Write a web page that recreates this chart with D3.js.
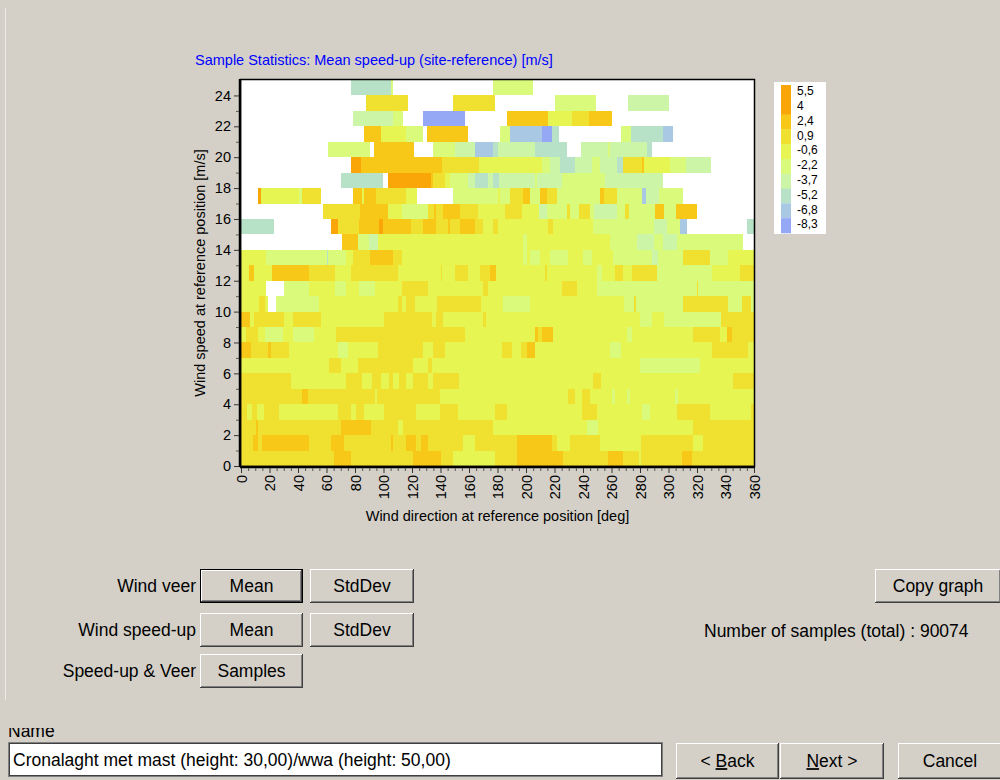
<!DOCTYPE html>
<html><head><meta charset="utf-8">
<script src="https://cdnjs.cloudflare.com/ajax/libs/d3/7.8.5/d3.min.js"></script>
<style>
html,body{margin:0;padding:0;background:#D4D0C8;}
svg{display:block;}
</style></head>
<body>
<svg id="c" width="1000" height="780"></svg>
<script>
// ---- data (direction segments per wind-speed bin: [fromDeg, toDeg, meanSpeedUp]) ----
const speedBins = d3.range(0, 25);
const xTicks = d3.range(0, 361, 20);
const yTicks = d3.range(0, 25, 2);
const legendLabels = ["5,5","4","2,4","0,9","-0,6","-2,2","-3,7","-5,2","-6,8","-8,3"];
const legendValues = [5.5,4,2.4,0.9,-0.6,-2.2,-3.7,-5.2,-6.8,-8.3];
const thresholds = [-6.8,-5.2,-3.7,-2.2,-0.6,0.9,2.4,4];
const palette = ["#94A8F5","#A8C8E4","#B8E2C8","#CCF5A8","#DAFA7C","#E6F552","#F0E030","#F8C818","#FBA608"];

const row0 = [[0,65.5,1.6],[65.5,77,3.2],[77,120.5,1.6],[120.5,140,3.2],[140,149,1.6],[149,178.5,0.1],[178.5,194,1.6],[194,226,3.2],[226,257.5,1.6],[257.5,268,3.2],[268,279,1.6],[279,280.5,0.1],[280.5,309.5,1.6],[309.5,316.5,3.2],[316.5,360,1.6]];
const row1 = [[0,8.5,1.6],[8.5,12,3.2],[12,14.5,1.6],[14.5,48,3.2],[48,63,1.6],[63,72,3.2],[72,105,1.6],[105,107,3.2],[107,116,1.6],[116,122.5,3.2],[122.5,126,1.6],[126,131.5,3.2],[131.5,155.5,1.6],[155.5,164,0.1],[164,194,1.6],[194,218.5,3.2],[218.5,222,1.6],[222,231,0.1],[231,252,1.6],[252,281,0.1],[281,317,1.6],[317,324,0.1],[324,360,1.6]];
const row2 = [[0,10.5,1.6],[10.5,12,3.2],[12,70,1.6],[70,91,3.2],[91,110,1.6],[110,114,0.1],[114,177,1.6],[177,243,0.1],[243,250.5,-1.4],[250.5,317,0.1],[317,360,1.6]];
const row3 = [[0,4,1.6],[4,8,0.1],[8,11,1.6],[11,16,0.1],[16,26.5,1.6],[26.5,68,0.1],[68,77,1.6],[77,80.5,0.1],[80.5,86,1.6],[86,100,0.1],[100,122.5,1.6],[122.5,139.5,0.1],[139.5,152,1.6],[152,178.5,0.1],[178.5,187,1.6],[187,239.5,0.1],[239.5,250,1.6],[250,281.5,0.1],[281.5,287,-1.4],[287,306,0.1],[306,329,1.6],[329,358,0.1],[358,360,1.6]];
const row4 = [[0,42.5,1.6],[42.5,47,3.2],[47,94,1.6],[94,95.5,0.1],[95.5,139.5,1.6],[139.5,229.5,0.1],[229.5,234.5,1.6],[234.5,239.5,0.1],[239.5,245,1.6],[245,260.5,0.1],[260.5,262.5,-1.4],[262.5,271,0.1],[271,273,-1.4],[273,304.5,0.1],[304.5,307,-1.4],[307,360,0.1]];
const row5 = [[0,35,1.6],[35,73.5,0.1],[73.5,85,1.6],[85,92,0.1],[92,98,1.6],[98,104,0.1],[104,107,1.6],[107,111,0.1],[111,116,1.6],[116,121,0.1],[121,131,1.6],[131,134.5,0.1],[134.5,153,1.6],[153,247,0.1],[247,252.5,1.6],[252.5,345,0.1],[345,360,1.6]];
const row6 = [[0,62,0.1],[62,70,1.6],[70,82,0.1],[82,120.5,1.6],[120.5,131.5,0.1],[131.5,134,1.6],[134,280,0.1],[280,322,-1.4],[322,360,0.1]];
const row7 = [[0,7,3.2],[7,19,1.6],[19,21,3.2],[21,33.5,1.6],[33.5,68,0.1],[68,75,-1.4],[75,96,0.1],[96,128,1.6],[128,135,0.1],[135,143.5,1.6],[143.5,183.5,0.1],[183.5,190.5,1.6],[190.5,196.5,0.1],[196.5,201,1.6],[201,206,3.2],[206,259,0.1],[259,266.5,-1.4],[266.5,330.5,0.1],[330.5,355.5,1.6],[355.5,360,0.1]];
const row8 = [[0,3.5,0.1],[3.5,12,1.6],[12,17,0.1],[17,29.5,-1.4],[29.5,36.5,0.1],[36.5,51,-1.4],[51,66.5,0.1],[66.5,157.5,1.6],[157.5,206,0.1],[206,208.5,3.2],[208.5,211,1.6],[211,219,3.2],[219,271,0.1],[271,274.5,-1.4],[274.5,317,0.1],[317,336,1.6],[336,341,0.1],[341,344.5,3.2],[344.5,360,1.6]];
const row9 = [[0,6.5,3.2],[6.5,9,0.1],[9,30,1.6],[30,36.5,0.1],[36.5,56,1.6],[56,100,0.1],[100,134,1.6],[134,136.5,0.1],[136.5,141.5,1.6],[141.5,170,0.1],[170,172,1.6],[172,280,0.1],[280,288.5,-1.4],[288.5,297,0.1],[297,337,-1.4],[337,360,1.6]];
const row10 = [[0,12.5,0.1],[12.5,17,1.6],[17,19,0.1],[24.5,54.5,-1.4],[54.5,110.5,0.1],[110.5,113,1.6],[113,115.5,0.1],[115.5,122,1.6],[122,137.5,0.1],[137.5,168.5,1.6],[168.5,184,0.1],[184,202.5,-1.4],[202.5,269,0.1],[269,276,-1.4],[276,277,1.6],[277,310.5,-1.4],[310.5,341.5,1.6],[341.5,351.5,-1.4],[351.5,358,1.6],[358,360,-1.4]];
const row11 = [[0,17.5,0.1],[30.5,47.5,-1.4],[47.5,66,0.1],[66,73.5,-1.4],[73.5,82.5,0.1],[82.5,94,-1.4],[94,113,0.1],[113,131.5,1.6],[131.5,170,0.1],[170,173.5,1.6],[173.5,225.5,0.1],[225.5,236,1.6],[236,249.5,0.1],[249.5,320,-1.4],[320,321,1.6],[321,360,-1.4]];
const row12 = [[0,5.5,0.1],[5.5,9,3.2],[9,22,0.1],[22,47.5,3.2],[47.5,66,1.6],[66,77,0.1],[77,110.5,1.6],[110.5,140,0.1],[140,141,1.6],[141,150,0.1],[150,159,1.6],[159,168,0.1],[168,175,1.6],[175,179,3.2],[179,213,0.1],[213,214.5,1.6],[214.5,250,0.1],[250,253,-1.4],[253,262.5,0.1],[262.5,268,1.6],[268,274.5,0.1],[274.5,292,1.6],[292,330.5,-1.4],[330.5,350,0.1],[350,360,1.6]];
const row13 = [[0,17.5,0.1],[17.5,60,-1.4],[60,61,-4.5],[61,73.5,-1.4],[73.5,78.5,0.1],[78.5,90.5,1.6],[90.5,106.5,3.2],[106.5,113,1.6],[113,198,0.1],[198,201,-1.4],[201,203,0.1],[203,210,-1.4],[210,217,0.1],[217,229.5,-1.4],[229.5,240,0.1],[240,246.5,-1.4],[246.5,261,0.1],[261,288.5,-1.4],[288.5,292.5,-3],[292.5,310,-1.4],[310,329,1.6],[329,342,-1.4],[342,360,0.1]];
const row14 = [[71,82,3.2],[82,89.5,-1.4],[89.5,96,-3],[96,198,0.1],[198,201,-1.4],[201,259,0.1],[259,278,-1.4],[278,289.5,-3],[289.5,296,-1.4],[296,306,-3],[306,352.5,-1.4]];
const row15 = [[0,23,-4.5],[63,68,4.7],[68,82.5,1.6],[82.5,97,3.2],[97,99.5,4.7],[99.5,119,3.2],[119,128,1.6],[128,136.5,3.2],[136.5,145,1.6],[145,147,3.2],[147,153.5,1.6],[153.5,164,3.2],[164,169.5,1.6],[169.5,177,0.1],[177,180,1.6],[180,215.5,0.1],[215.5,219,1.6],[219,247,0.1],[247,289.5,-1.4],[289.5,299,-3],[299,308,-1.4],[308,313,-6],[355,360,-4.5]];
const row16 = [[57.5,83.5,1.6],[83.5,103,3.2],[103,113,0.1],[113,131.5,-1.4],[131.5,135.5,1.6],[135.5,137,3.2],[137,141.5,1.6],[141.5,153.5,3.2],[153.5,166,1.6],[166,185.5,0.1],[185.5,197,1.6],[197,209,0.1],[209,215,-3],[215,228.5,-1.4],[228.5,231,1.6],[231,237,-1.4],[237,245,1.6],[245,248,-1.4],[248,264,-3],[264,269.5,-1.4],[269.5,272,1.6],[272,290.5,-1.4],[290.5,296.5,3.2],[296.5,305.5,-1.4],[305.5,320,3.2]];
const row17 = [[12,14,4.7],[14,40.5,0.1],[40.5,42.5,-1.4],[42.5,56,1.6],[78.5,85,3.2],[85,86,0.1],[86,94.5,3.2],[94.5,115.5,1.6],[115.5,123.5,0.1],[148.5,180,-1.4],[180,181.5,0.1],[181.5,189,-1.4],[189,198,1.6],[198,202.5,3.2],[202.5,209.5,-1.4],[209.5,215,3.2],[215,221.5,1.6],[221.5,252,-1.4],[252,255,3.2],[255,264,1.6],[264,281.5,-1.4],[281.5,284.5,-6],[284.5,293,-3],[293,310,-1.4]];
const row18 = [[70,99.5,-4.5],[103,133,4.7],[133,135,3.2],[135,143.5,1.6],[143.5,147,0.1],[147,159.5,-1.4],[159.5,164.5,-3],[164.5,173.5,-4.5],[173.5,177,-3],[177,181,-4.5],[181,206.5,-3],[206.5,208,-1.4],[208,225.5,-3],[225.5,255.5,-1.4],[255.5,296,-3]];
const row19 = [[77,84.5,4.7],[84.5,141,3.2],[141,167,1.6],[167,211.5,0.1],[211.5,217,-1.4],[217,224,-3],[224,234.5,-4.5],[234.5,246.5,-3],[246.5,252,-1.4],[252,264,-3],[264,268,-4.5],[268,281.5,1.6],[281.5,283,3.2],[283,301,0.1],[301,312.5,-1.4],[312.5,330,-3]];
const row20 = [[61,90.5,-1.4],[93,121.5,3.2],[135,150.5,-1.4],[150.5,164,-3],[164,177,-6],[177,180,-4.5],[180,206.5,-3],[206.5,229,-4.5],[238.5,257.5,-3],[257.5,259,-1.4],[259,285,-3],[285,288.5,-4.5]];
const row21 = [[86,98,3.2],[98,115.5,0.1],[115.5,127.5,-1.4],[130.5,159,3.2],[181.5,189,-1.4],[189,211,-6],[211,218.5,-7.6],[218.5,223,-4.5],[267,274,-1.4],[274,296,-4.5],[296,303,-6]];
const row22 = [[78.5,106.5,-3],[106.5,114,-1.4],[128,157,-7.6],[187,215.5,3.2],[215.5,232,0.1],[232,244.5,1.6],[244.5,260.5,3.2]];
const row23 = [[88,117,1.6],[149,178.5,1.6],[220,249,-1.4],[271.5,300.5,-3]];
const row24 = [[77,105,-4.5],[105,106.5,-1.4],[176.5,205,-1.4]];
const rows = [row0,row1,row2,row3,row4,row5,row6,row7,row8,row9,row10,row11,row12,row13,row14,row15,row16,row17,row18,row19,row20,row21,row22,row23,row24];

// ---- drawing ----
const svg = d3.select("#c");
const FONT = "'Liberation Sans', Arial, sans-serif";
const x = d3.scaleLinear().domain([0,360]).range([241,754]);
const y = d3.scaleLinear().domain([0,25]).range([466,80]);
const color = d3.scaleThreshold().domain(thresholds).range(palette);

svg.append("rect").attr("x",0).attr("y",0).attr("width",1000).attr("height",780).attr("fill","#D4D0C8");
svg.append("line").attr("x1",5.5).attr("x2",5.5).attr("y1",8).attr("y2",700).attr("stroke","#ECEAE4").attr("stroke-width",1);

// title
svg.append("text").attr("x",195).attr("y",65).attr("fill","#0000FF")
  .style("font-family",FONT).style("font-size","14.5px")
  .text("Sample Statistics: Mean speed-up (site-reference) [m/s]");

// plot background
svg.append("rect").attr("x",x(0)).attr("y",y(25)).attr("width",x(360)-x(0)).attr("height",y(0)-y(25)).attr("fill","#FFFFFF");

// cells
const cells = svg.append("g").attr("shape-rendering","crispEdges");
rows.forEach((segs,k)=>{
  cells.selectAll(null).data(segs).enter().append("rect")
    .attr("x",d=>x(d[0]))
    .attr("width",d=>Math.max(1,x(d[1])-x(d[0])))
    .attr("y",y(speedBins[k]+1))
    .attr("height",y(speedBins[k])-y(speedBins[k]+1))
    .attr("fill",d=>color(d[2]));
});

// frame
svg.append("rect").attr("x",x(0)-0.5).attr("y",y(25)-0.5).attr("width",x(360)-x(0)+1).attr("height",y(0)-y(25)+1)
  .attr("fill","none").attr("stroke","#000").attr("stroke-width",1.5);
svg.append("line").attr("x1",x(0)-1).attr("x2",x(0)-1).attr("y1",y(25)-1).attr("y2",y(0)+1).attr("stroke","#000").attr("stroke-width",2.5);
svg.append("line").attr("x1",x(0)-1).attr("x2",x(360)+1).attr("y1",y(0)+1).attr("y2",y(0)+1).attr("stroke","#000").attr("stroke-width",2.5);

// y axis
const yAxis = d3.axisLeft(y).tickValues(yTicks).tickSize(5).tickPadding(3);
const gy = svg.append("g").attr("transform",`translate(${x(0)-2},0)`).call(yAxis);
gy.select(".domain").remove();
gy.selectAll("text").style("font-family",FONT).style("font-size","14.5px").attr("fill","#000");
gy.selectAll("line").attr("stroke","#333");
const gyMinor = svg.append("g").attr("transform",`translate(${x(0)-2},0)`).call(d3.axisLeft(y).tickValues(d3.range(1,25,2)).tickSize(3).tickFormat(""));
gyMinor.select(".domain").remove(); gyMinor.selectAll("line").attr("stroke","#555");

// x axis
const xAxis = d3.axisBottom(x).tickValues(xTicks).tickSize(5).tickPadding(3);
const gx = svg.append("g").attr("transform",`translate(0,${y(0)+2})`).call(xAxis);
gx.select(".domain").remove();
gx.selectAll("line").attr("stroke","#333");
gx.selectAll("text").style("font-family",FONT).style("font-size","14.5px").attr("fill","#000")
  .attr("transform","rotate(-90)").attr("text-anchor","end").attr("x",-7).attr("y",0).attr("dy","0.35em");
const gxMinor = svg.append("g").attr("transform",`translate(0,${y(0)+2})`).call(d3.axisBottom(x).tickValues(d3.range(0,361,5).filter(v=>v%20!==0)).tickSize(3).tickFormat(""));
gxMinor.select(".domain").remove(); gxMinor.selectAll("line").attr("stroke","#555");

// axis titles
svg.append("text").attr("x",(x(0)+x(360))/2).attr("y",521).attr("text-anchor","middle")
  .style("font-family",FONT).style("font-size","14.5px").text("Wind direction at reference position [deg]");
svg.append("text").attr("transform",`translate(205,${(y(0)+y(25))/2}) rotate(-90)`).attr("text-anchor","middle")
  .style("font-family",FONT).style("font-size","14.5px").text("Wind speed at reference position [m/s]");

// legend
const lg = svg.append("g");
lg.append("rect").attr("x",774).attr("y",82).attr("width",52).attr("height",152).attr("fill","#FFFFFF");
const slot = 14.8;
lg.selectAll("rect.sw").data(legendValues).enter().append("rect").attr("class","sw")
  .attr("x",781).attr("width",10).attr("y",(d,i)=>85+i*slot).attr("height",slot+0.3)
  .attr("fill",d=>color(d));
lg.selectAll("text").data(legendLabels).enter().append("text")
  .attr("x",797).attr("y",(d,i)=>85+i*slot+6).attr("dy","0.35em")
  .style("font-family",FONT).style("font-size","12px").text(d=>d);

// windows-style widgets
function button(x0,y0,w,h,label,isDefault,underline){
  const g = svg.append("g");
  if(isDefault){
    g.append("rect").attr("x",x0).attr("y",y0).attr("width",w).attr("height",h).attr("fill","#000");
    x0+=1;y0+=1;w-=2;h-=2;
  }
  g.append("rect").attr("x",x0).attr("y",y0).attr("width",w).attr("height",h).attr("fill","#404040");
  g.append("rect").attr("x",x0).attr("y",y0).attr("width",w-1).attr("height",h-1).attr("fill","#FFFFFF");
  g.append("rect").attr("x",x0+1).attr("y",y0+1).attr("width",w-2).attr("height",h-2).attr("fill","#808080");
  g.append("rect").attr("x",x0+1).attr("y",y0+1).attr("width",w-3).attr("height",h-3).attr("fill","#D4D0C8");
  const t = g.append("text").attr("x",x0+w/2).attr("y",y0+h/2).attr("dy","0.35em").attr("text-anchor","middle")
    .style("font-family",FONT).style("font-size","17.5px").attr("fill","#000");
  if(underline!==undefined){
    t.append("tspan").text(label.slice(0,underline));
    t.append("tspan").attr("text-decoration","underline").text(label[underline]);
    t.append("tspan").text(label.slice(underline+1));
  } else t.text(label);
}
function label(x0,y0,txt,anchor){
  svg.append("text").attr("x",x0).attr("y",y0).attr("dy","0.35em").attr("text-anchor",anchor||"start")
    .style("font-family",FONT).style("font-size","17.5px").attr("fill","#000").text(txt);
}
label(196,586,"Wind veer","end");
label(196,630,"Wind speed-up","end");
label(196,671,"Speed-up & Veer","end");
button(200,569,103,34,"Mean",true);
button(310,569,104,34,"StdDev");
button(200,613,103,34,"Mean");
button(310,613,104,34,"StdDev");
button(200,654,103,34,"Samples");
button(875,569,126,34,"Copy graph");
label(704,631,"Number of samples (total) : 90074");

// name field
svg.append("text").attr("x",8).attr("y",737).style("font-family",FONT).style("font-size","17.5px").text("Name");
svg.append("rect").attr("x",0).attr("y",700).attr("width",1000).attr("height",28).attr("fill","#D4D0C8");
svg.append("rect").attr("x",8).attr("y",742).attr("width",655).attr("height",35).attr("fill","#FFFFFF");
svg.append("rect").attr("x",8.5).attr("y",742.5).attr("width",654).attr("height",34).attr("fill","none").attr("stroke","#808080");
svg.append("rect").attr("x",9.5).attr("y",743.5).attr("width",652).attr("height",32).attr("fill","none").attr("stroke","#404040");
label(13,760,"Cronalaght met mast (height: 30,00)/wwa (height: 50,00)");
button(676,743,103,36,"< Back",false,2);
button(780,743,104,36,"Next >",false,0);
button(898,743,104,36,"Cancel");
</script>
</body></html>
